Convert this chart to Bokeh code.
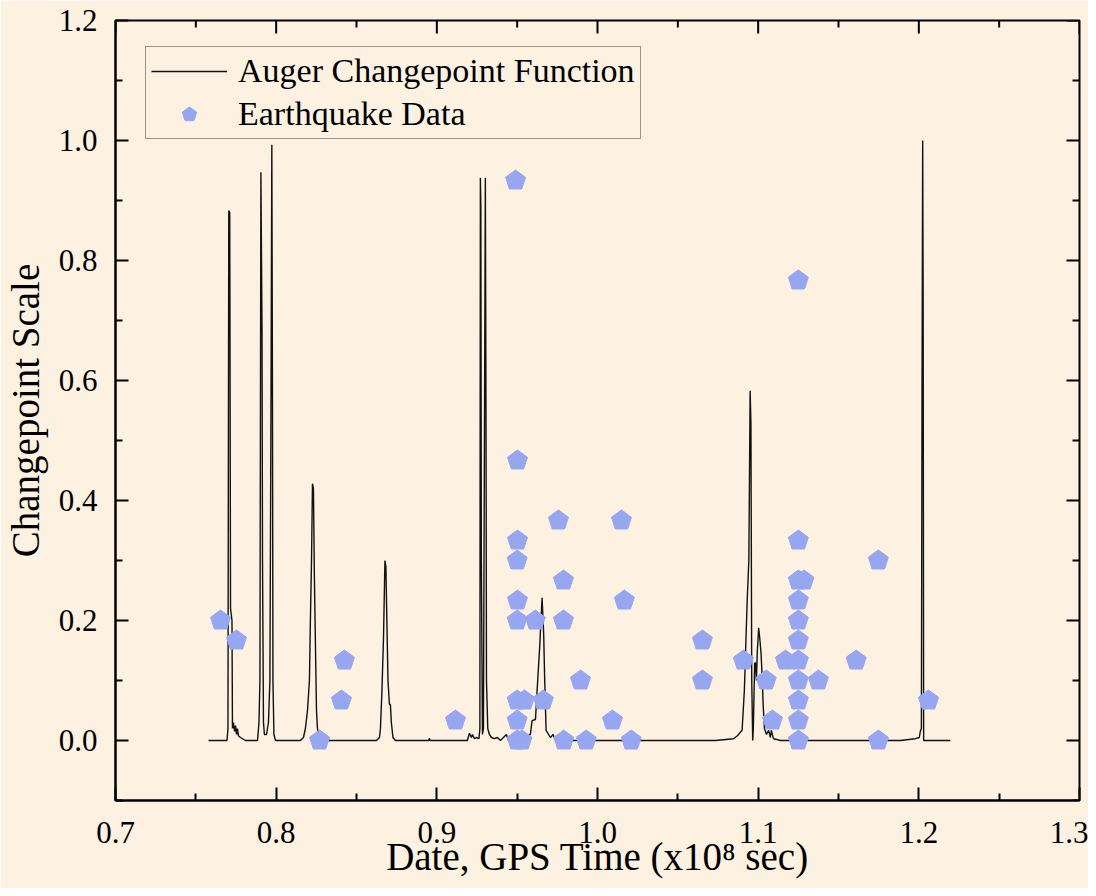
import math
from bokeh.plotting import figure
from bokeh.models import (LinearAxis, FixedTicker, NumeralTickFormatter,
                          Legend, LegendItem, Range1d, ColumnDataSource)
from bokeh.embed import file_html
from bokeh.resources import INLINE

# ---------------- data ----------------
# Auger changepoint function (x in 1e8 s GPS time, y changepoint scale)
cp_x = [0.7579, 0.7694, 0.7700, 0.7705, 0.7711, 0.7712, 0.7716, 0.7725, 0.7728, 0.7734,
        0.7741, 0.7747, 0.7753, 0.7759, 0.7765, 0.7778, 0.7809,
        0.7884, 0.7893, 0.7899, 0.7905, 0.7912, 0.7915, 0.7921, 0.7927, 0.7940, 0.7952,
        0.7961, 0.7968, 0.7973, 0.7977, 0.7980, 0.7986, 0.7996,
        0.8151, 0.8170, 0.8182, 0.8195, 0.8207, 0.8213, 0.8220, 0.8226, 0.8232, 0.8238,
        0.8245, 0.8251, 0.8257, 0.8269, 0.8282,
        0.8624, 0.8643, 0.8649, 0.8658, 0.8668, 0.8677, 0.8683, 0.8689, 0.8696, 0.8705,
        0.8711, 0.8717, 0.8727, 0.8742,
        0.8950, 0.8954, 0.8958,
        0.9190, 0.9203, 0.9215, 0.9222, 0.9234, 0.9246, 0.9262, 0.9268, 0.9271, 0.9274,
        0.9277, 0.9284, 0.9290, 0.9297, 0.9302, 0.9306, 0.9309, 0.9317, 0.9327, 0.9340,
        0.9358, 0.9377, 0.9396, 0.9433, 0.9446,
        0.9582, 0.9593, 0.9614, 0.9624, 0.9640, 0.9655, 0.9665, 0.9671, 0.9680, 0.9707,
        0.9724, 0.9738,
        1.0734, 1.0846, 1.0871, 1.0900, 1.0914, 1.0931, 1.0942, 1.0950, 1.0955, 1.0960,
        1.0966, 1.0970, 1.0978, 1.0983, 1.0989, 1.0995, 1.1003, 1.1010, 1.1018, 1.1026,
        1.1031, 1.1039, 1.1052, 1.1065, 1.1076, 1.1082, 1.1095, 1.1113, 1.1138,
        1.1885, 1.1978, 1.2003, 1.2009, 1.2016, 1.2020, 1.2024, 1.2027, 1.2030, 1.2196]
cp_y = [0.0, 0.0, 0.02, 0.883, 0.88, 0.76, 0.22, 0.20, 0.02, 0.03,
        0.015, 0.025, 0.01, 0.02, 0.008, 0.005, 0.0,
        0.0, 0.03, 0.10, 0.947, 0.68, 0.30, 0.03, 0.01, 0.01, 0.03,
        0.10, 0.575, 0.993, 0.57, 0.10, 0.01, 0.0,
        0.0, 0.005, 0.02, 0.05, 0.10, 0.20, 0.30, 0.428, 0.42, 0.27,
        0.15, 0.05, 0.02, 0.005, 0.0,
        0.0, 0.005, 0.02, 0.08, 0.17, 0.30, 0.29, 0.20, 0.10, 0.06,
        0.06, 0.03, 0.005, 0.0,
        0.0, 0.004, 0.0,
        0.0, 0.012, 0.005, 0.01, 0.003, 0.005, 0.003, 0.02, 0.938, 0.89,
        0.30, 0.01, 0.02, 0.553, 0.938, 0.55, 0.10, 0.02, 0.01, 0.005,
        0.003, 0.005, 0.0, 0.01, 0.0,
        0.01, 0.033, 0.035, 0.083, 0.155, 0.238, 0.178, 0.105, 0.017, 0.005,
        0.01, 0.0,
        0.0, 0.003, 0.008, 0.017, 0.083, 0.228, 0.30, 0.583, 0.528, 0.10,
        0.0, 0.02, 0.128, 0.13, 0.10, 0.15, 0.188, 0.17, 0.145, 0.10,
        0.06, 0.02, 0.01, 0.017, 0.005, 0.017, 0.003, 0.002, 0.0,
        0.0, 0.003, 0.005, 0.015, 0.02, 0.59, 1.0, 0.72, 0.0, 0.0]

# Earthquake data
eq_x = [0.7654, 0.7753, 0.8270, 0.8406, 0.8425, 0.9116,
        0.9490, 0.9502, 0.9502, 0.9500, 0.9502, 0.9500, 0.9500, 0.9500, 0.9500, 0.9530,
        0.9545, 0.9613, 0.9663, 0.9757, 0.9788, 0.9788, 0.9894, 0.9790, 0.9930,
        1.0093, 1.0149, 1.0167, 1.0210, 1.0653, 1.0653, 1.0908, 1.1050, 1.1089, 1.1170,
        1.1250, 1.1250, 1.1250, 1.1250, 1.1250, 1.1250, 1.1250, 1.1250, 1.1250, 1.1250,
        1.1250, 1.1285, 1.1375, 1.1610, 1.1748, 1.1748, 1.2060]
eq_y = [0.2000, 0.1667, 0.0000, 0.0667, 0.1333, 0.0333,
        0.9333, 0.4667, 0.3333, 0.3000, 0.2333, 0.2000, 0.0667, 0.0333, 0.0000, 0.0000,
        0.0667, 0.2000, 0.0667, 0.3667, 0.2667, 0.2000, 0.1000, 0.0000, 0.0000,
        0.0333, 0.3667, 0.2333, 0.0000, 0.1667, 0.1000, 0.1333, 0.1000, 0.0333, 0.1333,
        0.0000, 0.0333, 0.0667, 0.1000, 0.1333, 0.1667, 0.2000, 0.2333, 0.2667, 0.3333,
        0.7667, 0.2667, 0.1000, 0.1333, 0.3000, 0.0000, 0.0667]

# axis ticks (positions where tick marks sit)
x_major = [0.7, 0.8, 0.9, 1.0, 1.1, 1.2, 1.3]
x_minor = [0.75, 0.85, 0.95, 1.05, 1.15, 1.25]
y_major = [0.0, 0.2, 0.4, 0.6, 0.8, 1.0, 1.2]
y_minor = [-0.1, 0.1, 0.3, 0.5, 0.7, 0.9, 1.1]

x_label = "Date, GPS Time (x10\u2078 sec)"
y_label = "Changepoint Scale"
series_names = ["Auger Changepoint Function", "Earthquake Data"]

# ---------------- styling ----------------
BG = "#FDF2E2"
FONT = "Liberation Serif"
MARK = "#97A6F1"
X0, X1, Y0, Y1 = 0.7, 1.3, -0.1, 1.2

p = figure(width=1088, height=888, output_backend="svg", toolbar_location=None,
           x_range=Range1d(X0, X1), y_range=Range1d(Y0, Y1),
           x_axis_location=None, y_axis_location=None,
           min_border_left=115, min_border_right=9, min_border_top=20, min_border_bottom=88)
p.background_fill_color = BG
p.border_fill_color = BG
p.outline_line_color = "black"
p.outline_line_width = 2
p.xgrid.visible = False
p.ygrid.visible = False


def style_axis(ax):
    ax.axis_line_width = 2
    ax.axis_line_color = "black"
    ax.major_tick_in = 13
    ax.major_tick_out = 0
    ax.minor_tick_in = 7
    ax.minor_tick_out = 0
    ax.major_tick_line_width = 2
    ax.minor_tick_line_width = 2
    ax.major_tick_line_color = "black"
    ax.minor_tick_line_color = "black"
    ax.major_label_text_font = FONT
    ax.major_label_text_font_size = "31px"
    ax.major_label_text_color = "black"
    ax.axis_label_text_font = FONT
    ax.axis_label_text_font_size = "39px"
    ax.axis_label_text_font_style = "normal"
    ax.axis_label_text_color = "black"


xb = LinearAxis(ticker=FixedTicker(ticks=x_major, minor_ticks=x_minor),
                formatter=NumeralTickFormatter(format="0.0"), axis_label=x_label)
style_axis(xb)
xb.major_label_standoff = 21
xb.axis_label_standoff = -11
p.add_layout(xb, "below")

yl = LinearAxis(ticker=FixedTicker(ticks=y_major, minor_ticks=y_minor),
                formatter=NumeralTickFormatter(format="0.0"), axis_label=y_label)
style_axis(yl)
yl.major_label_standoff = 18
yl.axis_label_standoff = 9
p.add_layout(yl, "left")

# mirrored inward ticks on the top and right edges (clipped to the frame)
tick_kw = dict(marker="dash", line_color="black", line_width=2)
p.scatter(x_major, [Y1] * len(x_major), size=26, angle=math.pi / 2, **tick_kw)
p.scatter(x_minor, [Y1] * len(x_minor), size=14, angle=math.pi / 2, **tick_kw)
p.scatter([X1] * len(y_major), y_major, size=26, angle=0, **tick_kw)
p.scatter([X1] * len(y_minor), y_minor, size=14, angle=0, **tick_kw)

line_src = ColumnDataSource(dict(x=cp_x, y=cp_y))
eq_src = ColumnDataSource(dict(x=eq_x, y=eq_y))

r_line = p.line("x", "y", source=line_src, line_color="#111111", line_width=1.4)
r_eq = p.ngon(x="x", y="y", source=eq_src, radius=10.5, radius_units="screen", n=5,
              angle=0, fill_color=MARK, line_color=MARK, line_width=1)

legend = Legend(items=[LegendItem(label=series_names[0], renderers=[r_line]),
                       LegendItem(label=series_names[1], renderers=[r_eq])],
                location=(30, 661))
legend.label_text_font = FONT
legend.label_text_font_size = "34px"
legend.label_text_color = "black"
legend.label_height = 38
legend.glyph_height = 38
legend.glyph_width = 76
legend.label_standoff = 11
legend.spacing = 5
legend.padding = 5
legend.margin = 0
legend.border_line_color = "#333333"
legend.border_line_width = 1
legend.background_fill_color = BG
legend.background_fill_alpha = 1.0
p.add_layout(legend, "center")

open("out.html", "w").write(file_html(p, INLINE))
